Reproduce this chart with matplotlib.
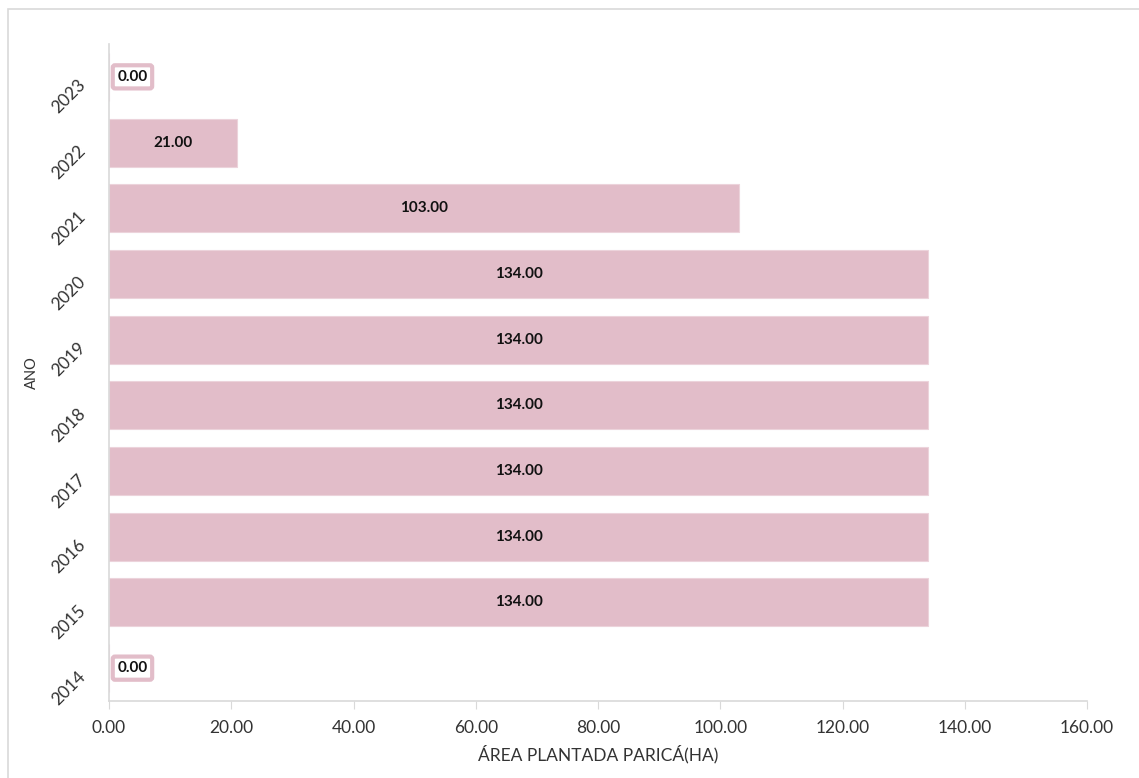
import numpy as np
import matplotlib.pyplot as plt
from matplotlib.patches import Rectangle

anos = ['2014', '2015', '2016', '2017', '2018', '2019', '2020', '2021', '2022', '2023']
area = [0.0, 134.0, 134.0, 134.0, 134.0, 134.0, 134.0, 103.0, 21.0, 0.0]

plt.rcParams['font.family'] = ['Lato', 'DejaVu Sans']

fig = plt.figure(figsize=(11.39, 7.78), dpi=100)
ax = fig.add_axes([109 / 1139, 1 - 701 / 778, (1087 - 109) / 1139, (701 - 44) / 778])

# outer frame
fig.patches.append(Rectangle((8 / 1139, -0.1), 1.2, 1.1 - 9 / 778, transform=fig.transFigure,
                             fill=False, edgecolor='#d9d9d9', linewidth=1.2))

pink = '#e2bdc9'
y = np.arange(len(anos))
bars = ax.barh(y, area, height=0.73, color=pink, edgecolor='#ecd3db', linewidth=0.8)

for i, v in enumerate(area):
    if v == 0:
        ax.annotate('%.2f' % v, (0, i), xytext=(6, 0), textcoords='offset points',
                    ha='left', va='center', fontsize=11, fontweight='bold', color='#111111',
                    bbox=dict(boxstyle='round,pad=0.3,rounding_size=0.15', fc='white', ec=pink, lw=3))
    else:
        ax.text(v / 2, i, '%.2f' % v, ha='center', va='center', fontsize=11,
                fontweight='bold', color='#111111')

ax.set_xlim(0, 160)
ax.set_ylim(-0.5, len(anos) - 0.5)
ax.set_xticks(np.arange(0, 161, 20))
ax.set_xticklabels(['%.2f' % t for t in np.arange(0, 161, 20)], fontsize=12.5, color='#333333')
ax.set_yticks(y)
ax.set_yticklabels(anos, rotation=45, fontsize=12.5, color='#333333', ha='right', va='top',
                   rotation_mode='anchor')
ax.tick_params(axis='y', length=0, pad=23)
ax.tick_params(axis='x', length=6, color='#d9d9d9', pad=8)

for s in ['top', 'right']:
    ax.spines[s].set_visible(False)
for s in ['left', 'bottom']:
    ax.spines[s].set_color('#d9d9d9')
    ax.spines[s].set_linewidth(1.2)

ax.set_xlabel('ÁREA PLANTADA PARICÁ(HA)', fontsize=12.5, color='#333333', labelpad=6)
ax.set_ylabel('ANO', fontsize=10.5, color='#333333')
ax.yaxis.set_label_coords(-70 / 978, 0.5)

fig.savefig('out.png', dpi=100, facecolor='white')
